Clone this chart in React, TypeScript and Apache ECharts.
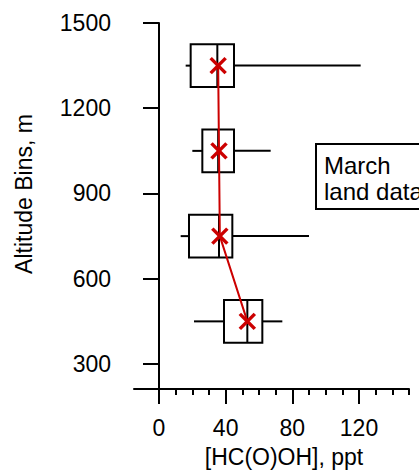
import React, { useEffect, useRef } from "react";
import * as echarts from "echarts";

const altitudes = [1350, 1050, 750, 450];
const whiskerLow = [16, 20, 13, 21];
const q1 = [19, 26, 18, 39];
const median = [35, 35.5, 36, 53];
const q3 = [45, 45, 44, 62];
const whiskerHigh = [121, 67, 90, 74];
const mean = [35.5, 36, 36.5, 53];

const yTicks = [300, 600, 900, 1200, 1500];
const xMajorTicks = [0, 40, 80, 120];
const xMinorTicks = [10, 20, 30, 50, 60, 70, 90, 100, 110, 130, 140, 150];

const FONT = "'Liberation Sans', Arial, sans-serif";
const RED = "#cc0000";
const BOX_HALF = 75; // altitude units

export default function App() {
  const ref = useRef<HTMLDivElement>(null);
  useEffect(() => {
    if (!ref.current) return;
    const chart = echarts.init(ref.current, null, { renderer: "svg" });
    const boxData = altitudes.map((a, i) => [a, whiskerLow[i], q1[i], median[i], q3[i], whiskerHigh[i]]);
    const meanData = altitudes.map((a, i) => [mean[i], a]);
    const option: any = {
      animation: false,
      backgroundColor: "#fff",
      grid: { left: 134, right: 10, top: 23, bottom: 81 },
      xAxis: [
        {
          type: "value",
          min: -15,
          max: 150,
          position: "bottom",
          axisLine: { show: true, lineStyle: { color: "#000", width: 2 } },
          axisTick: { show: true, customValues: xMajorTicks, length: 15, lineStyle: { color: "#000", width: 2 } },
          axisLabel: { customValues: xMajorTicks, color: "#000", fontSize: 23, fontFamily: FONT, margin: 27, formatter: (v: number) => String(v) },
          splitLine: { show: false },
        },
        {
          type: "value",
          min: -15,
          max: 150,
          position: "bottom",
          axisLine: { show: false },
          axisTick: { show: true, customValues: xMinorTicks, length: 6, lineStyle: { color: "#000", width: 2 } },
          axisLabel: { show: false },
          splitLine: { show: false },
        },
      ],
      yAxis: {
        type: "value",
        min: 212,
        max: 1500,
        axisLine: { show: true, lineStyle: { color: "#000", width: 2 } },
        axisTick: { show: true, customValues: yTicks, length: 16, lineStyle: { color: "#000", width: 2 } },
        axisLabel: { customValues: yTicks, color: "#000", fontSize: 23, fontFamily: FONT, margin: 23, formatter: (v: number) => String(v) },
        splitLine: { show: false },
      },
      graphic: [
        {
          type: "text",
          x: 24,
          y: 194,
          rotation: Math.PI / 2,
          style: { text: "Altitude Bins, m", fontSize: 23, fontFamily: FONT, fill: "#000", align: "center", verticalAlign: "middle" },
        },
        {
          type: "text",
          x: 284,
          y: 457,
          style: { text: "[HC(O)OH], ppt", fontSize: 23, fontFamily: FONT, fill: "#000", align: "center", verticalAlign: "middle" },
        },
        {
          type: "rect",
          shape: { x: 316, y: 144, width: 200, height: 65 },
          style: { fill: "#fff", stroke: "#000", lineWidth: 2 },
          z: 10,
        },
        {
          type: "text",
          x: 324,
          y: 178,
          z: 11,
          style: { text: "March\nland data", fontSize: 24, lineHeight: 26, fontFamily: FONT, fill: "#000", align: "left", verticalAlign: "middle" },
        },
      ],
      series: [
        {
          type: "custom",
          xAxisIndex: 0,
          z: 2,
          encode: { x: [1, 2, 3, 4, 5], y: 0 },
          data: boxData,
          renderItem: (params: any, api: any) => {
            const alt = api.value(0);
            const yc = api.coord([0, alt])[1];
            const yTop = api.coord([0, alt + BOX_HALF])[1];
            const yBot = api.coord([0, alt - BOX_HALF])[1];
            const xwl = api.coord([api.value(1), alt])[0];
            const xq1 = api.coord([api.value(2), alt])[0];
            const xmed = api.coord([api.value(3), alt])[0];
            const xq3 = api.coord([api.value(4), alt])[0];
            const xwh = api.coord([api.value(5), alt])[0];
            const st = { stroke: "#000", lineWidth: 2, fill: "none" };
            return {
              type: "group",
              children: [
                { type: "line", shape: { x1: xwl, y1: yc, x2: xq1, y2: yc }, style: st },
                { type: "line", shape: { x1: xq3, y1: yc, x2: xwh, y2: yc }, style: st },
                { type: "rect", shape: { x: xq1, y: yTop, width: xq3 - xq1, height: yBot - yTop }, style: st },
                { type: "line", shape: { x1: xmed, y1: yTop, x2: xmed, y2: yBot }, style: st },
              ],
            };
          },
        },
        {
          type: "line",
          xAxisIndex: 0,
          z: 3,
          data: meanData,
          symbol: "none",
          lineStyle: { color: RED, width: 2 },
        },
        {
          type: "custom",
          xAxisIndex: 0,
          z: 4,
          encode: { x: 0, y: 1 },
          data: meanData,
          renderItem: (params: any, api: any) => {
            const p = api.coord([api.value(0), api.value(1)]);
            const h = 7.5;
            const st = { stroke: RED, lineWidth: 3.5, fill: "none" };
            return {
              type: "group",
              children: [
                { type: "line", shape: { x1: p[0] - h, y1: p[1] - h, x2: p[0] + h, y2: p[1] + h }, style: st },
                { type: "line", shape: { x1: p[0] - h, y1: p[1] + h, x2: p[0] + h, y2: p[1] - h }, style: st },
              ],
            };
          },
        },
      ],
    };
    chart.setOption(option);
    return () => chart.dispose();
  }, []);
  return <div ref={ref} style={{ width: 419, height: 470, position: "absolute", left: 0, top: 0 }} />;
}
